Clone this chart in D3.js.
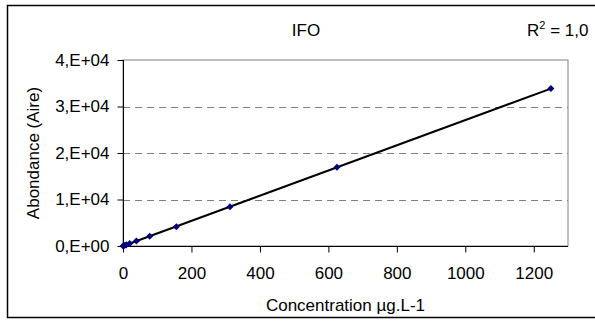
<!DOCTYPE html>
<html><head><meta charset="utf-8">
<script src="https://cdn.jsdelivr.net/npm/d3@7"></script>
<style>
html,body{margin:0;padding:0;background:#fff;}
svg{display:block;font-family:"Liberation Sans",Arial,sans-serif;}
</style></head>
<body>
<svg id="c" width="595" height="322"></svg>
<script>
const concentrations = [0, 4.9, 9.8, 19.5, 39, 78, 156, 312.5, 625, 1250];
const areas = [0, 130, 265, 530, 1060, 2080, 4150, 8450, 16950, 33850];
const xTicks = [0, 200, 400, 600, 800, 1000, 1200];
const yTicks = [0, 10000, 20000, 30000, 40000];
const yTickLabels = ["0,E+00", "1,E+04", "2,E+04", "3,E+04", "4,E+04"];
const title = "IFO";
const xTitle = "Concentration µg.L-1";
const yTitle = "Abondance (Aire)";

const svg = d3.select("#c");
const fs = 17;
const L = 123, R = 568, T = 60, B = 246;

svg.append("rect").attr("x", 7.5).attr("y", 5.5).attr("width", 620).attr("height", 312)
  .attr("fill", "#fff").attr("stroke", "#000").attr("stroke-width", 1.5);

const x = d3.scaleLinear().domain([0, 1300]).range([L, R]);
const y = d3.scaleLinear().domain([0, 40000]).range([B, T]);

// plot border
svg.append("rect").attr("x", L).attr("y", T).attr("width", R - L).attr("height", B - T)
  .attr("fill", "none").attr("stroke", "#808080").attr("stroke-width", 1);

// gridlines
svg.append("g").selectAll("line").data(yTicks.filter(v => v > 0 && v < 40000)).join("line")
  .attr("x1", L).attr("x2", R).attr("y1", d => Math.round(y(d)) + 0.5).attr("y2", d => Math.round(y(d)) + 0.5)
  .attr("stroke", "#808080").attr("stroke-dasharray", "7,5");

// axes
const yAxis = d3.axisLeft(y).tickValues(yTicks).tickSize(6).tickPadding(8)
  .tickFormat((d, i) => yTickLabels[i]);
const gy = svg.append("g").attr("transform", `translate(${L + 0.5},0)`).call(yAxis);
const xAxis = d3.axisBottom(x).tickValues(xTicks).tickSize(6).tickPadding(14).tickFormat(d3.format("d"));
const gx = svg.append("g").attr("transform", `translate(0,${B + 0.5})`).call(xAxis);
[gx, gy].forEach(g => {
  g.select(".domain").attr("stroke", "#000").attr("stroke-width", 1);
  g.selectAll(".tick line").attr("stroke", "#000");
  g.selectAll("text").attr("font-size", fs).attr("fill", "#000")
    .attr("font-family", "'Liberation Sans',Arial,sans-serif");
});
gx.select(".domain").attr("d", `M${L},0H${R}`);
gy.select(".domain").attr("d", `M0,${B}V${T}`);

// trendline via least squares
const n = concentrations.length;
const mx = d3.mean(concentrations), my = d3.mean(areas);
let sxy = 0, sxx = 0;
for (let i = 0; i < n; i++) { sxy += (concentrations[i] - mx) * (areas[i] - my); sxx += (concentrations[i] - mx) ** 2; }
const slope = sxy / sxx, icpt = my - slope * mx;
const xExt = d3.extent(concentrations);
svg.append("path").datum(xExt)
  .attr("d", d3.line().x(d => x(d)).y(d => y(slope * d + icpt)))
  .attr("stroke", "#000").attr("stroke-width", 2).attr("fill", "none");

// markers
svg.append("g").selectAll("path").data(concentrations).join("path")
  .attr("transform", (d, i) => `translate(${x(d)},${y(areas[i])})`)
  .attr("d", "M0,-3.5L3.5,0L0,3.5L-3.5,0Z")
  .attr("fill", "#000080");

// titles
svg.append("text").attr("x", 306).attr("y", 36).attr("text-anchor", "middle")
  .attr("font-size", fs).text(title);
const r2 = svg.append("text").attr("x", 527).attr("y", 36).attr("font-size", fs);
r2.append("tspan").text("R");
r2.append("tspan").attr("font-size", 11).attr("dy", -7).text("2");
r2.append("tspan").attr("dy", 7).text(" = 1,0");
svg.append("text").attr("x", (L + R) / 2).attr("y", 311).attr("text-anchor", "middle")
  .attr("font-size", fs).text(xTitle);
svg.append("text").attr("transform", `translate(39,${(T + B) / 2}) rotate(-90)`)
  .attr("text-anchor", "middle").attr("font-size", fs).text(yTitle);
</script>
</body></html>
